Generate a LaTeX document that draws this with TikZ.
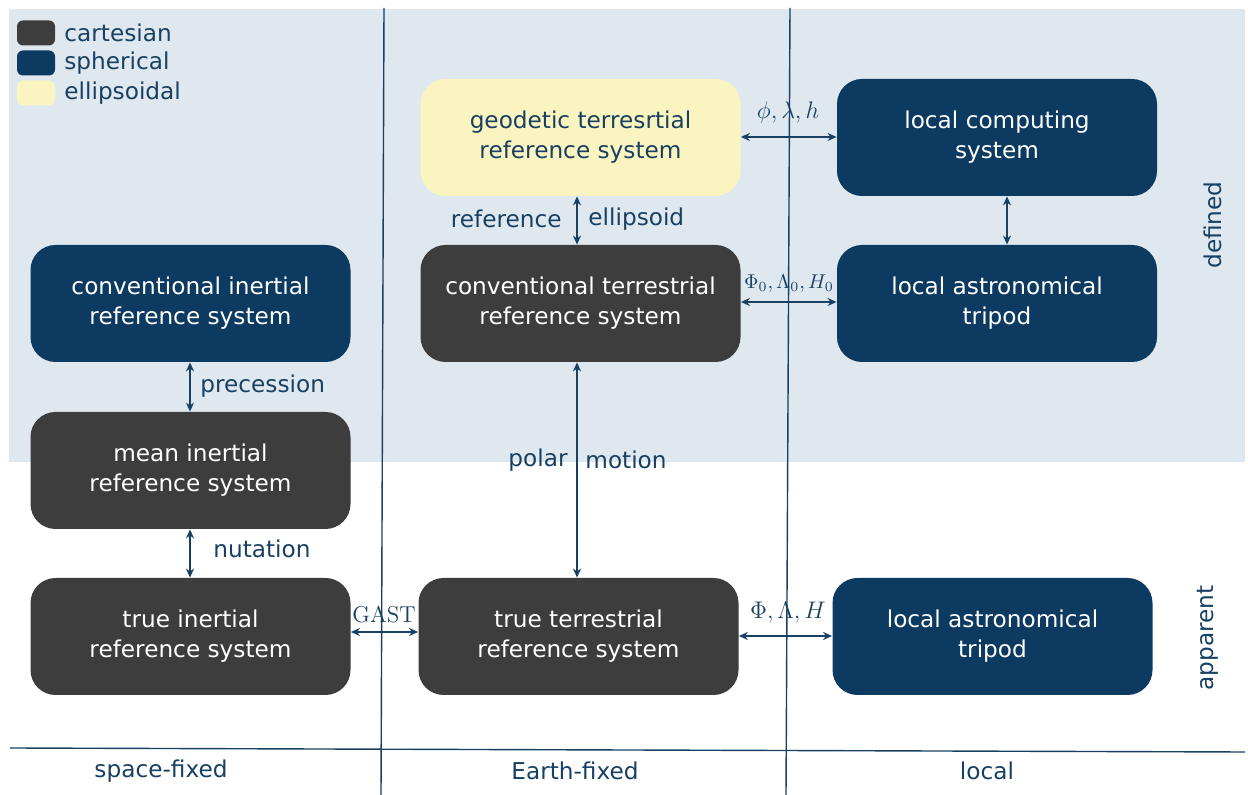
\documentclass[tikz,border=0pt]{standalone}
\usepackage{fontspec}
\setmainfont{DejaVu Sans}
\newfontfamily\serifrm{Latin Modern Roman}
\usetikzlibrary{arrows.meta}
\definecolor{ink}{RGB}{24,64,98}
\definecolor{cartesian}{RGB}{61,61,61}
\definecolor{spherical}{RGB}{12,58,96}
\definecolor{ellipsoidal}{RGB}{250,244,192}
\definecolor{defbg}{RGB}{223,232,239}
\tikzset{
  sys/.style={rounded corners=12.5pt, minimum width=160pt, minimum height=58.5pt,
    align=center, text=white, inner sep=0pt,
    font=\fontsize{11.6}{15}\selectfont},
  cart/.style={sys, fill=cartesian},
  sph/.style={sys, fill=spherical},
  ell/.style={sys, fill=ellipsoidal, text=ink},
  swatch/.style={rounded corners=3pt, minimum width=19pt, minimum height=12.5pt, inner sep=0pt},
  lbl/.style={text=ink, font=\fontsize{11.6}{14}\selectfont, inner sep=0pt},
  mlbl/.style={text=ink, font=\fontsize{13}{15}\selectfont, inner sep=0pt},
  slbl/.style={text=ink, font=\fontsize{9.6}{12}\selectfont, inner sep=0pt},
  link/.style={draw=ink, line width=0.8pt, {Stealth[length=4.5pt,width=4pt]}-{Stealth[length=4.5pt,width=4pt]}},
  sep/.style={draw=ink, line width=0.7pt}
}
\begin{document}
\begin{tikzpicture}[x=0.5pt,y=-0.5pt]
\useasboundingbox (0,0) rectangle (1248,795);
% region of defined systems
\fill[defbg] (9,9) rectangle (1245,462);

% legend
\node[swatch, fill=cartesian] (sw1) at (36,33) {};
\node[swatch, fill=spherical] (sw2) at (36,63) {};
\node[swatch, fill=ellipsoidal] (sw3) at (36,93) {};
\node[lbl, anchor=west] (lg1) at (64,33) {cartesian};
\node[lbl, anchor=west] (lg2) at (64,63) {spherical};
\node[lbl, anchor=west] (lg3) at (64,93) {ellipsoidal};

% separators
\draw[sep] (384,8) -- (381,795);
\draw[sep] (790,8) -- (786,795);
\draw[sep] (10,748) -- (1245,752);

% systems
\node[ell] (gtrs) at (580.5,137.5) {geodetic terresrtial\\reference system};
\node[sph] (lcs) at (997,137.5) {local computing\\system};
\node[sph] (cirs) at (190.5,303.5) {conventional inertial\\reference system};
\node[cart] (ctrs) at (580.5,303.5) {conventional terrestrial\\reference system};
\node[sph] (lat0) at (997,303.5) {local astronomical\\tripod};
\node[cart] (mirs) at (190.5,470.5) {mean inertial\\reference system};
\node[cart] (tirs) at (190.5,636.5) {true inertial\\reference system};
\node[cart] (ttrs) at (578.5,636.5) {true terrestrial\\reference system};
\node[sph] (lat) at (992.5,636.5) {local astronomical\\tripod};

% transformations
\draw[link] (gtrs.east |- 0,137) -- (lcs.west |- 0,137);
\node[mlbl] (l1) at (788,113) {$\phi,\lambda,h$};
\draw[link] (ctrs.east |- 0,302) -- (lat0.west |- 0,302);
\node[slbl] (l2) at (789,284) {$\Phi_0,\Lambda_0,H_0$};
\draw[link] (tirs.east |- 0,632) -- (ttrs.west |- 0,632);
\node[text=ink, inner sep=0pt, font=\serifrm\fontsize{11.5}{14}\selectfont] (l3) at (384,615) {GAST};
\draw[link] (ttrs.east |- 0,636) -- (lat.west |- 0,636);
\node[mlbl] (l4) at (788,613) {$\Phi,\Lambda,H$};

\draw[link] (cirs.south -| 190,0) -- (mirs.north -| 190,0);
\node[lbl, anchor=west] (t1) at (200,386) {precession};
\draw[link] (mirs.south -| 190,0) -- (tirs.north -| 190,0);
\node[lbl, anchor=west] (t2) at (213,549) {nutation};
\draw[link] (gtrs.south -| 577,0) -- (ctrs.north -| 577,0);
\node[lbl, anchor=east] (t3) at (562,219) {reference};
\node[lbl, anchor=west] (t4) at (588,219) {ellipsoid};
\draw[link] (ctrs.south -| 577,0) -- (ttrs.north -| 577,0);
\node[lbl, anchor=east] (t5) at (568,460) {polar};
\node[lbl, anchor=west] (t6) at (585,460) {motion};
\draw[link] (lcs.south -| 1007,0) -- (lat0.north -| 1007,0);

% categories
\node[lbl, rotate=90] (c1) at (1213,225) {defined};
\node[lbl, rotate=90] (c2) at (1208,638) {apparent};
\node[lbl] (c3) at (161,771) {space-fixed};
\node[lbl] (c4) at (575,771) {Earth-fixed};
\node[lbl] (c5) at (987,771) {local};
\end{tikzpicture}
\end{document}
